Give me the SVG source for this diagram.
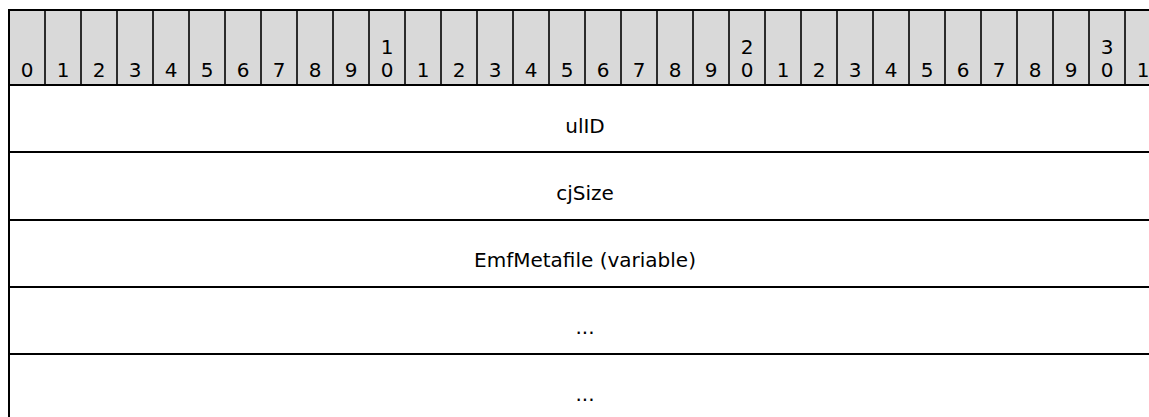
<svg xmlns="http://www.w3.org/2000/svg" width="1149" height="417" viewBox="0 0 1149 417">
<style>
.t{font-family:"DejaVu Sans","Verdana",sans-serif;font-size:20px;fill:#000;text-anchor:middle}
.hd{fill:#d9d9d9;stroke:#000;stroke-width:2}
.ln{stroke:#000;stroke-width:2;fill:none}
.dv{stroke:#000;stroke-width:1.6}
</style>
<g id="header">
<rect class="hd" x="9" y="10" width="1160" height="75"/>
<g id="dividers">
<line class="dv" x1="45" y1="10" x2="45" y2="85"/><line class="dv" x1="81" y1="10" x2="81" y2="85"/><line class="dv" x1="117" y1="10" x2="117" y2="85"/><line class="dv" x1="153" y1="10" x2="153" y2="85"/><line class="dv" x1="189" y1="10" x2="189" y2="85"/><line class="dv" x1="225" y1="10" x2="225" y2="85"/><line class="dv" x1="261" y1="10" x2="261" y2="85"/><line class="dv" x1="297" y1="10" x2="297" y2="85"/><line class="dv" x1="333" y1="10" x2="333" y2="85"/><line class="dv" x1="369" y1="10" x2="369" y2="85"/><line class="dv" x1="405" y1="10" x2="405" y2="85"/><line class="dv" x1="441" y1="10" x2="441" y2="85"/><line class="dv" x1="477" y1="10" x2="477" y2="85"/><line class="dv" x1="513" y1="10" x2="513" y2="85"/><line class="dv" x1="549" y1="10" x2="549" y2="85"/><line class="dv" x1="585" y1="10" x2="585" y2="85"/><line class="dv" x1="621" y1="10" x2="621" y2="85"/><line class="dv" x1="657" y1="10" x2="657" y2="85"/><line class="dv" x1="693" y1="10" x2="693" y2="85"/><line class="dv" x1="729" y1="10" x2="729" y2="85"/><line class="dv" x1="765" y1="10" x2="765" y2="85"/><line class="dv" x1="801" y1="10" x2="801" y2="85"/><line class="dv" x1="837" y1="10" x2="837" y2="85"/><line class="dv" x1="873" y1="10" x2="873" y2="85"/><line class="dv" x1="909" y1="10" x2="909" y2="85"/><line class="dv" x1="945" y1="10" x2="945" y2="85"/><line class="dv" x1="981" y1="10" x2="981" y2="85"/><line class="dv" x1="1017" y1="10" x2="1017" y2="85"/><line class="dv" x1="1053" y1="10" x2="1053" y2="85"/><line class="dv" x1="1089" y1="10" x2="1089" y2="85"/><line class="dv" x1="1125" y1="10" x2="1125" y2="85"/>
</g>
<g id="bits">
<text class="t" x="27" y="77">0</text><text class="t" x="63" y="77">1</text><text class="t" x="99" y="77">2</text><text class="t" x="135" y="77">3</text><text class="t" x="171" y="77">4</text><text class="t" x="207" y="77">5</text><text class="t" x="243" y="77">6</text><text class="t" x="279" y="77">7</text><text class="t" x="315" y="77">8</text><text class="t" x="351" y="77">9</text>
<text class="t" x="387" y="54">1</text><text class="t" x="387" y="77">0</text>
<text class="t" x="423" y="77">1</text><text class="t" x="459" y="77">2</text><text class="t" x="495" y="77">3</text><text class="t" x="531" y="77">4</text><text class="t" x="567" y="77">5</text><text class="t" x="603" y="77">6</text><text class="t" x="639" y="77">7</text><text class="t" x="675" y="77">8</text><text class="t" x="711" y="77">9</text>
<text class="t" x="747" y="54">2</text><text class="t" x="747" y="77">0</text>
<text class="t" x="783" y="77">1</text><text class="t" x="819" y="77">2</text><text class="t" x="855" y="77">3</text><text class="t" x="891" y="77">4</text><text class="t" x="927" y="77">5</text><text class="t" x="963" y="77">6</text><text class="t" x="999" y="77">7</text><text class="t" x="1035" y="77">8</text><text class="t" x="1071" y="77">9</text>
<text class="t" x="1107" y="54">3</text><text class="t" x="1107" y="77">0</text>
<text class="t" x="1143" y="77">1</text>
</g>
</g>
<g id="connectors">
<line class="ln" x1="9" y1="85" x2="9" y2="420"/>
<line class="ln" x1="9" y1="152" x2="1160" y2="152"/>
<line class="ln" x1="9" y1="220" x2="1160" y2="220"/>
<line class="ln" x1="9" y1="287" x2="1160" y2="287"/>
<line class="ln" x1="9" y1="354" x2="1160" y2="354"/>
</g>
<g id="ulID"><text class="t" x="585" y="133">ulID</text></g>
<g id="cjSize"><text class="t" x="585" y="200">cjSize</text></g>
<g id="EmfMetafile"><text class="t" x="585" y="267">EmfMetafile (variable)</text></g>
<g id="more1"><text class="t" x="585" y="334">...</text></g>
<g id="more2"><text class="t" x="585" y="401">...</text></g>
</svg>
